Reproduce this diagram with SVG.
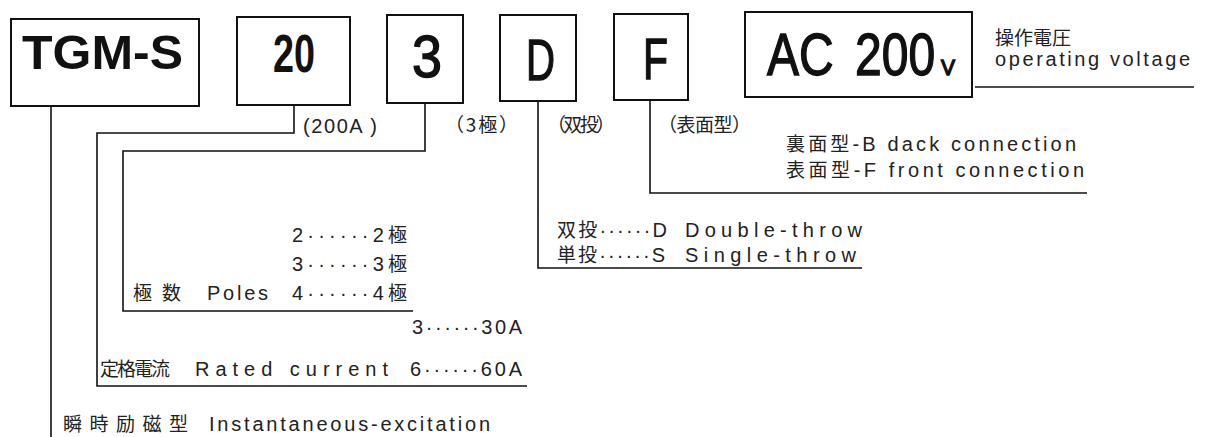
<svg xmlns="http://www.w3.org/2000/svg" width="1207" height="437" viewBox="0 0 1207 437">
<style>
.box{fill:#fff;stroke:#111;stroke-width:2}
.big{font-family:"Liberation Sans",Arial,sans-serif;font-weight:bold;fill:#111}
.mid{font-family:"Liberation Sans",Arial,sans-serif;fill:#111;stroke:#111;stroke-width:1.4}
.ln{fill:none;stroke:#111;stroke-width:1.6}
.t{font-family:"Liberation Sans","Noto Sans CJK JP",sans-serif;font-size:20px;fill:#222}
.j{font-family:"Noto Sans CJK JP",sans-serif;font-size:19px;fill:#222}
</style>
<rect width="1207" height="437" fill="#fff"/>
<g id="connectors">
<path class="ln" d="M51 106V437"/>
<path class="ln" d="M294 105V133H97V386H527"/>
<path class="ln" d="M425 103V151H123V311H413"/>
<path class="ln" d="M538 101V268H862"/>
<path class="ln" d="M650 100V193H1087"/>
<path class="ln" d="M975 87H1194"/>
</g>
<g id="node-tgms"><rect class="box" x="11" y="19" width="188" height="87"/><text class="big" x="22" y="69" font-size="48" textLength="161" lengthAdjust="spacingAndGlyphs">TGM-S</text></g>
<g id="node-20"><rect class="box" x="237" y="17" width="113" height="88"/><text class="big" x="273" y="72" font-size="54" textLength="42" lengthAdjust="spacingAndGlyphs">20</text></g>
<g id="node-3"><rect class="box" x="387" y="15" width="76" height="88"/><text class="mid" x="412" y="77" font-size="60" textLength="30" lengthAdjust="spacingAndGlyphs">3</text></g>
<g id="node-d"><rect class="box" x="500" y="15" width="76" height="86"/><text class="mid" x="526" y="80" font-size="58" textLength="29" lengthAdjust="spacingAndGlyphs">D</text></g>
<g id="node-f"><rect class="box" x="614" y="14" width="74" height="86"/><text class="mid" x="643" y="79" font-size="58" textLength="25" lengthAdjust="spacingAndGlyphs">F</text></g>
<g id="node-ac"><rect class="box" x="745" y="12" width="227" height="85"/>
<text class="mid" transform="scale(0.8 1)" x="958.75" y="75" font-size="60">AC<tspan x="1068.75">200</tspan></text>
<text class="mid" x="941" y="75" font-size="22" stroke-width="0.3" textLength="14" lengthAdjust="spacingAndGlyphs">V</text></g>
<g id="label-voltage">
<text class="j" x="995" y="45" font-size="12.5">操作電圧</text>
<text class="t" x="995" y="66" font-size="19" textLength="195">operating voltage</text>
</g>
<g id="label-200a"><text class="t" x="303" y="133" textLength="74">(200A )</text></g>
<g id="label-3p"><text class="j" x="445" y="132" textLength="73">（3極）</text></g>
<g id="label-dt"><text class="j" x="547" y="132" textLength="68">（双投）</text></g>
<g id="label-front"><text class="j" x="658" y="132" textLength="93">（表面型）</text></g>
<g id="label-conn">
<text class="t" x="786" y="151" textLength="290"><tspan class="j">裏面型</tspan>-B dack  connection</text>
<text class="t" x="786" y="177" textLength="298"><tspan class="j">表面型</tspan>-F front  connection</text>
</g>
<g id="label-poles">
<text class="t" x="292" y="242" textLength="115">2······2<tspan class="j">極</tspan></text>
<text class="t" x="292" y="271" textLength="115">3······3<tspan class="j">極</tspan></text>
<text class="j" x="133" y="300" textLength="48">極数</text>
<text class="t" x="207" y="300" textLength="61">Poles</text>
<text class="t" x="292" y="300" textLength="115">4······4<tspan class="j">極</tspan></text>
</g>
<g id="label-current">
<text class="t" x="412" y="334" textLength="110">3······30A</text>
<text class="j" x="100" y="376" textLength="70">定格電流</text>
<text class="t" x="195" y="376" textLength="193">Rated current</text>
<text class="t" x="410" y="376" textLength="112">6······60A</text>
</g>
<g id="label-throw">
<text class="t" x="557" y="237" textLength="110"><tspan class="j">双投</tspan>······D</text>
<text class="t" x="685" y="237" textLength="177">Double-throw</text>
<text class="t" x="557" y="262" textLength="108"><tspan class="j">単投</tspan>······S</text>
<text class="t" x="685" y="262" textLength="171">Single-throw</text>
</g>
<g id="label-inst">
<text class="j" x="63" y="431" textLength="125">瞬時励磁型</text>
<text class="t" x="209" y="431" textLength="281">Instantaneous-excitation</text>
</g>
</svg>
